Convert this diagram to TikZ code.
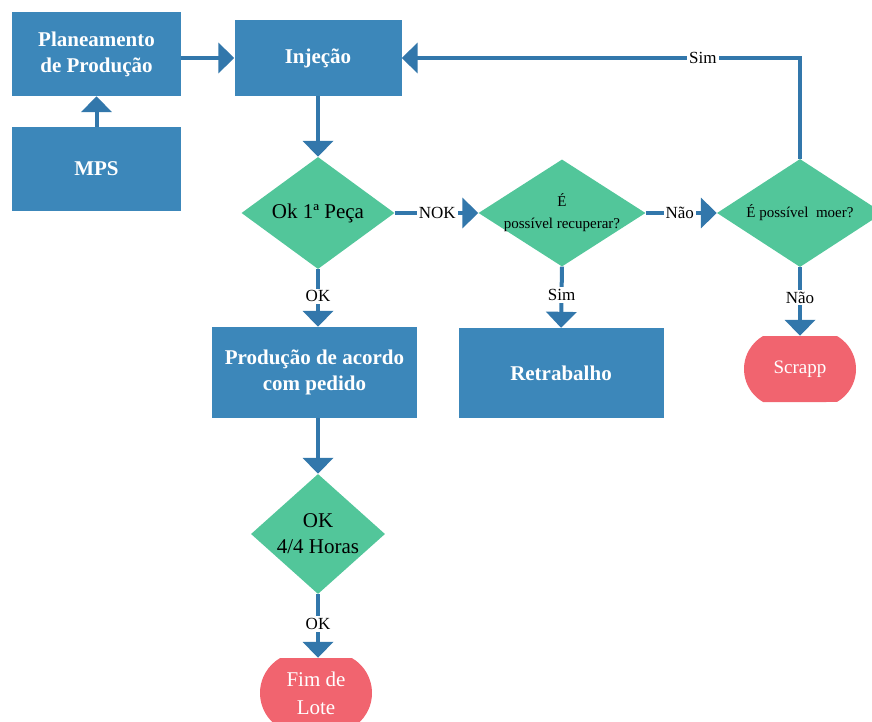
\documentclass[tikz,border=0pt]{standalone}
\usepackage{fontspec}
\setmainfont{Liberation Serif}
\usetikzlibrary{shapes.geometric,shapes.misc,arrows.meta}

\definecolor{boxblue}{HTML}{3C87BA}
\definecolor{lineblue}{HTML}{3277AB}
\definecolor{decgreen}{HTML}{52C69A}
\definecolor{termred}{HTML}{F1646F}

\tikzset{
  procbox/.style={rectangle, fill=boxblue, text=white, inner sep=0pt, align=center,
    font=\fontsize{21}{26}\selectfont\bfseries},
  decision/.style={diamond, fill=decgreen, inner sep=0pt},
  dtext/.style={align=center, text=black, inner sep=0pt, font=\fontsize{21}{26}\selectfont},
  dsmall/.style={align=center, text=black, inner sep=0pt, font=\fontsize{15}{22}\selectfont},
  terminal/.style={rounded rectangle, rounded rectangle arc length=120, fill=termred,
    text=white, inner sep=0pt, align=center},
  conn/.style={draw=lineblue, line width=4pt,
    -{Triangle[width=30pt,length=16pt,fill=lineblue]}},
  lbl/.style={fill=white, inner sep=2pt, text=black, font=\fontsize{17}{20}\selectfont}
}

\begin{document}
\begin{tikzpicture}[x=1pt,y=-1pt]
  \useasboundingbox (0,0) rectangle (872,722);
  \clip (0,0) rectangle (872,722);

  % process boxes
  \node[procbox, minimum width=169pt, minimum height=84pt] (plan) at (96.5,54) {Planeamento\\de Produção};
  \node[procbox, minimum width=169pt, minimum height=84pt] (mps) at (96.5,169) {MPS};
  \node[procbox, minimum width=167pt, minimum height=76pt] (inj) at (318,58) {Injeção};
  \node[procbox, minimum width=205pt, minimum height=91pt] (prod) at (314.5,372.5) {Produção de acordo\\com pedido};
  \node[procbox, minimum width=205pt, minimum height=90pt] (retr) at (561,373) {Retrabalho};

  % decisions (text set as a centred label so the diamond keeps its size)
  \node[decision, minimum width=153pt, minimum height=112pt,
        label={[dtext]center:Ok 1ª Peça}] (ok1) at (318,213) {};
  \node[decision, minimum width=167pt, minimum height=107pt,
        label={[dsmall]center:É\\possível recuperar?}] (rec) at (562,213) {};
  \node[decision, minimum width=166pt, minimum height=108pt,
        label={[dsmall]center:É possível\ \ moer?}] (moer) at (800,213) {};
  \node[decision, minimum width=134pt, minimum height=120pt,
        label={[dtext]center:OK\\4/4 Horas}] (ok4) at (318,534) {};

  % terminals
  \node[terminal, minimum width=112pt, minimum height=66pt, font=\fontsize{19}{24}\selectfont] (scrap) at (800,369) {Scrapp};
  \node[terminal, minimum width=112pt, minimum height=70pt, font=\fontsize{21}{28}\selectfont] (fim) at (316,693) {Fim de\\Lote};

  % connectors
  \draw[conn] (mps) -- (plan);
  \draw[conn] (plan.east |- inj.west) -- (inj.west);
  \draw[conn] (inj) -- (ok1.north);
  \draw[conn] (ok1.east) -- node[lbl, pos=0.51] {NOK} (rec.west);
  \draw[conn] (rec.east) -- node[lbl, pos=0.48] {Não} (moer.west);
  \draw[conn] (moer.north) |- node[lbl, pos=0.622] {Sim} (inj.east);
  \draw[conn] (ok1.south) -- node[lbl, pos=0.47] {OK} (ok1.south |- prod.north);
  \draw[conn] (rec.south) -- node[lbl, pos=0.46] {Sim} (retr.north);
  \draw[conn] (moer.south) -- node[lbl, pos=0.44] {Não} (scrap.north);
  \draw[conn] (ok4.north |- prod.south) -- (ok4.north);
  \draw[conn] (ok4.south) -- node[lbl, pos=0.47] {OK} (ok4.south |- fim.north);
\end{tikzpicture}
\end{document}
